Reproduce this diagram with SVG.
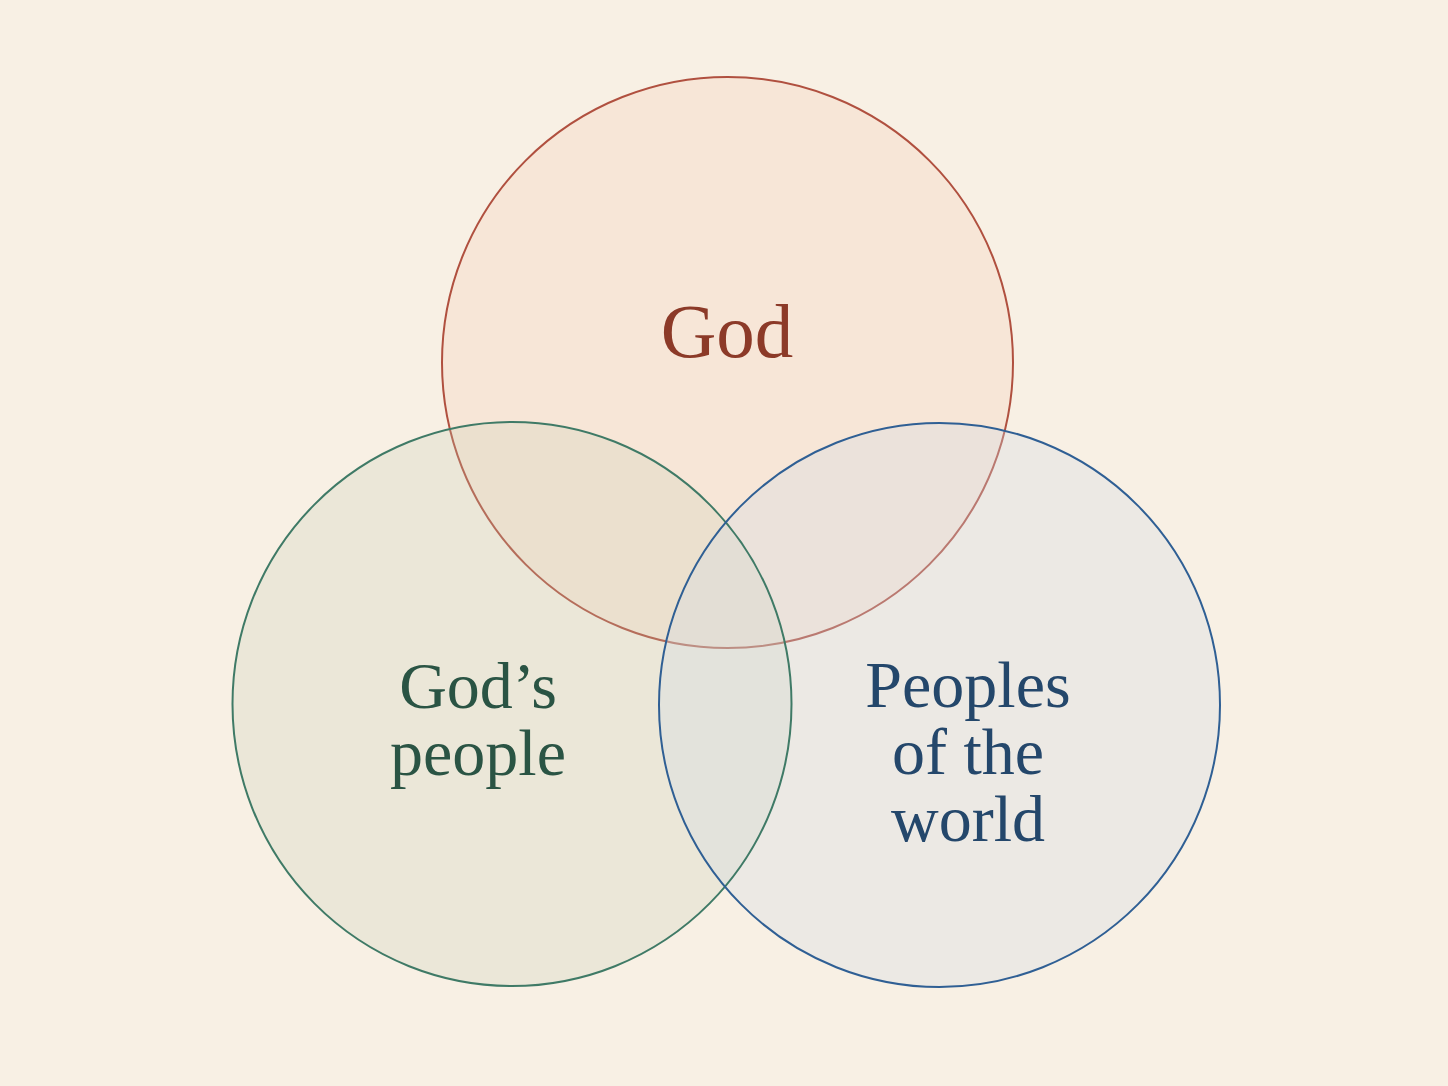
<svg xmlns="http://www.w3.org/2000/svg" width="1448" height="1086" viewBox="0 0 1448 1086">
  <style>
    .lbl { font-family: "Liberation Serif", "DejaVu Serif", serif; text-anchor: middle; }
    .god { fill: #8c3a28; font-size: 77px; }
    .gp { fill: #2a5444; font-size: 66px; }
    .pw { fill: #24476b; font-size: 66px; }
  </style>
  <rect width="1448" height="1086" fill="#f8f0e4"/>
  <g id="circles">
    <g id="god">
      <circle cx="727.5" cy="362.5" r="285.5" fill="rgb(240,180,150)" fill-opacity="0.16"/>
      <circle cx="727.5" cy="362.5" r="285.5" fill="none" stroke="#b0503f" stroke-width="2"/>
    </g>
    <g id="gods-people">
      <ellipse cx="512" cy="704" rx="279.5" ry="282" fill="rgb(195,205,180)" fill-opacity="0.24"/>
    </g>
    <g id="peoples-of-the-world">
      <ellipse cx="939.5" cy="705" rx="280.5" ry="282" fill="rgb(210,217,228)" fill-opacity="0.3"/>
    </g>
    <ellipse cx="512" cy="704" rx="279.5" ry="282" fill="none" stroke="#3f7a66" stroke-width="2"/>
    <ellipse cx="939.5" cy="705" rx="280.5" ry="282" fill="none" stroke="#2f5f94" stroke-width="2"/>
  </g>
  <g id="labels">
    <text class="lbl god" x="727" y="357">God</text>
    <text class="lbl gp" x="478" y="708">God’s</text>
    <text class="lbl gp" x="478" y="775">people</text>
    <text class="lbl pw" x="968" y="707">Peoples</text>
    <text class="lbl pw" x="968" y="774">of the</text>
    <text class="lbl pw" x="968" y="841">world</text>
  </g>
</svg>
